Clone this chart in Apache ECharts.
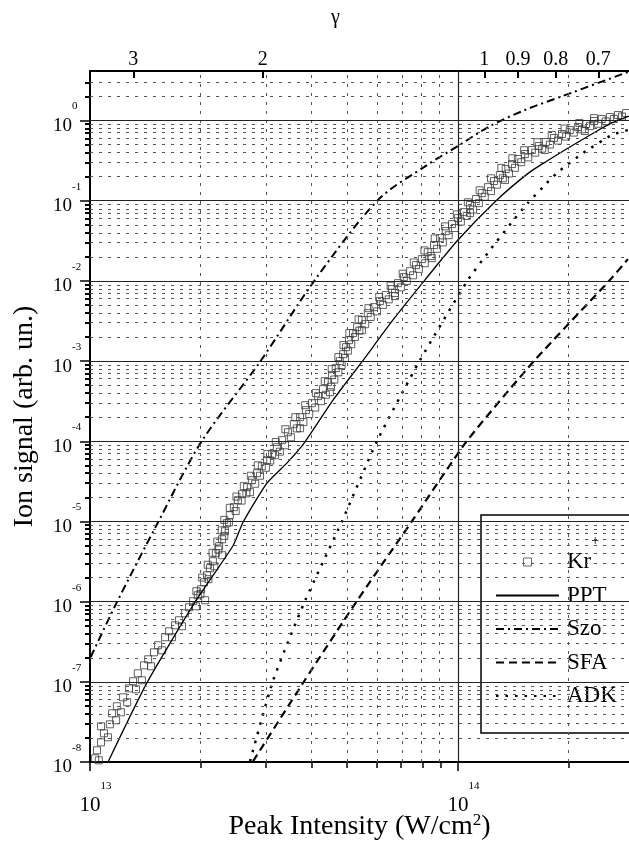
<!DOCTYPE html>
<html>
<head>
<meta charset="utf-8">
<title>Kr+ ion signal vs peak intensity</title>
<script src="https://cdn.jsdelivr.net/npm/echarts@6/dist/echarts.min.js"></script>
<style>
  html, body { margin: 0; padding: 0; background: #fff; }
  #ionChart { width: 629px; height: 845px; }
</style>
</head>
<body>
<div id="ionChart"></div>
<script>
  // every value is a decimal exponent: [log10 peak intensity (W/cm2), log10 ion signal]
  const krData = [
    [13.014,-7.954],[13.024,-7.979],[13.019,-7.854],[13.030,-7.755],[13.038,-7.642],[13.030,-7.555],
    [13.049,-7.692],[13.054,-7.530],[13.060,-7.393],[13.071,-7.480],[13.073,-7.305],[13.084,-7.380],
    [13.090,-7.193],[13.101,-7.255],[13.106,-7.081],[13.117,-6.993],[13.125,-7.093],[13.130,-6.894],
    [13.141,-6.981],[13.147,-6.794],[13.158,-6.719],[13.166,-6.806],[13.174,-6.632],[13.185,-6.544],
    [13.196,-6.607],[13.204,-6.444],[13.215,-6.370],[13.223,-6.444],[13.231,-6.295],[13.242,-6.232],
    [13.250,-6.307],[13.258,-6.145],[13.269,-6.070],[13.280,-5.995],[13.288,-6.058],[13.293,-5.920],
    [13.313,-5.983],[13.302,-5.846],[13.310,-5.758],[13.318,-5.671],[13.326,-5.583],[13.334,-5.496],
    [13.359,-5.421],[13.342,-5.396],[13.351,-5.309],[13.359,-5.222],[13.367,-5.122],[13.372,-5.022],
    [13.380,-4.922],[13.391,-4.822],[13.402,-4.735],[13.435,-4.635],[13.413,-4.660],[13.427,-4.573],
    [13.440,-4.486],[13.454,-4.398],[13.467,-4.311],[13.481,-4.236],[13.503,-4.174],[13.495,-4.161],
    [13.508,-4.074],[13.522,-3.986],[13.538,-3.887],[13.571,-3.837],[13.554,-3.787],[13.571,-3.699],
    [13.587,-3.612],[13.603,-3.525],[13.620,-3.437],[13.652,-3.388],[13.633,-3.350],[13.647,-3.263],
    [13.658,-3.175],[13.668,-3.088],[13.679,-3.001],[13.688,-2.913],[13.696,-2.826],[13.704,-2.739],
    [13.715,-2.651],[13.739,-2.614],[13.726,-2.577],[13.739,-2.489],[13.755,-2.402],[13.772,-2.327],
    [13.788,-2.252],[13.829,-2.190],[13.804,-2.177],[13.821,-2.102],[13.837,-2.028],[13.853,-1.953],
    [13.870,-1.878],[13.886,-1.803],[13.929,-1.716],[13.902,-1.728],[13.918,-1.641],[13.935,-1.553],
    [13.951,-1.466],[13.967,-1.379],[13.984,-1.291],[14.000,-1.216],[14.033,-1.154],[14.016,-1.142],
    [14.033,-1.054],[14.049,-0.979],[14.065,-0.905],[14.082,-0.830],[14.128,-0.742],[14.098,-0.755],
    [14.114,-0.680],[14.130,-0.605],[14.147,-0.543],[14.163,-0.480],[14.182,-0.418],[14.236,-0.368],
    [14.201,-0.368],[14.220,-0.318],[14.239,-0.268],[14.261,-0.218],[14.283,-0.168],[14.345,-0.131],
    [14.304,-0.119],[14.326,-0.081],[14.348,-0.044],[14.370,-0.006],[14.391,0.019],[14.413,0.044],
    [14.435,0.069],[14.457,0.094],
    // lower edge of the band
    [13.300,-5.905],[13.322,-5.720],[13.338,-5.560],[13.349,-5.350],[13.365,-5.180],[13.378,-5.010],
    [13.396,-4.870],[13.412,-4.740],[13.425,-4.650],[13.449,-4.530],[13.462,-4.430],[13.478,-4.330],
    [13.490,-4.240],[13.516,-4.130],[13.530,-4.050],[13.546,-3.950],[13.562,-3.840],[13.580,-3.760],
    [13.596,-3.660],[13.612,-3.580],[13.628,-3.500],[13.641,-3.420],[13.655,-3.320],[13.664,-3.230],
    [13.675,-3.140],[13.684,-3.050],[13.693,-2.960],[13.701,-2.870],[13.710,-2.790],[13.720,-2.700],
    [13.732,-2.620],[13.748,-2.540],[13.763,-2.450],[13.780,-2.380],[13.796,-2.300],[13.812,-2.230],
    [13.829,-2.150],[13.845,-2.080],[13.861,-2.000],[13.878,-1.930],[13.894,-1.850],[13.910,-1.780],
    [13.926,-1.690],[13.943,-1.600],[13.959,-1.520],[13.975,-1.430],[13.992,-1.340],[14.008,-1.260],
    [14.024,-1.190],[14.041,-1.110],[14.057,-1.030],[14.073,-0.950],[14.090,-0.880],[14.106,-0.800],
    [14.122,-0.720],[14.139,-0.660],[14.155,-0.590],[14.172,-0.520],[14.191,-0.460],[14.210,-0.400],
    [14.229,-0.350],[14.250,-0.300],[14.272,-0.250],[14.294,-0.200],[14.315,-0.150],[14.337,-0.110],
    [14.359,-0.070],[14.381,-0.040],[14.402,-0.010],[14.424,0.020],[14.446,0.050],
    // upper edge of the band
    [13.289,-5.870],[13.305,-5.700],[13.320,-5.540],[13.333,-5.390],[13.346,-5.250],[13.358,-5.110],
    [13.365,-4.980],[13.380,-4.830],[13.398,-4.690],[13.418,-4.560],[13.437,-4.430],[13.456,-4.300],
    [13.482,-4.160],[13.505,-4.010],[13.531,-3.850],[13.558,-3.700],[13.585,-3.550],[13.614,-3.400],
    [13.638,-3.250],[13.657,-3.100],[13.675,-2.950],[13.689,-2.800],[13.705,-2.650],[13.730,-2.480],
    [13.757,-2.340],[13.786,-2.200],[13.817,-2.060],[13.850,-1.910],[13.880,-1.770],[13.909,-1.620],
    [13.937,-1.470],[13.965,-1.320],[13.997,-1.170],[14.027,-1.020],[14.059,-0.870],[14.090,-0.720],
    [14.118,-0.590],[14.148,-0.470],[14.180,-0.370],[14.216,-0.270],[14.255,-0.180],[14.290,-0.100],
    [14.330,-0.030],[14.370,0.030]
  ];
  const pptData = [
    [13.049,-8.0],[13.155,-7.01],[13.285,-6.01],[13.389,-5.30],[13.416,-5.01],[13.481,-4.522],
    [13.535,-4.273],[13.584,-4.01],[13.660,-3.49],[13.739,-3.01],[13.823,-2.49],[13.910,-1.99],
    [14.0,-1.49],[14.106,-0.99],[14.196,-0.64],[14.242,-0.505],[14.304,-0.33],[14.378,-0.13],
    [14.418,-0.03],[14.465,0.056]
  ];
  const szoData = [
    [13.002,-6.69],[13.073,-6.008],[13.185,-5.01],[13.302,-4.011],[13.462,-3.01],[13.611,-1.99],
    [13.783,-0.99],[13.916,-0.555],[14.0,-0.318],[14.087,-0.069],[14.182,0.131],[14.285,0.306],
    [14.462,0.605]
  ];
  const sfaData = [
    [13.443,-7.992],[13.582,-6.993],[13.723,-6.008],[13.875,-4.997],[14.024,-3.999],[14.209,-2.988],
    [14.413,-1.990],[14.462,-1.728]
  ];
  const adkData = [
    [13.435,-7.992],[13.497,-6.993],[13.584,-5.995],[13.685,-4.997],[13.780,-3.999],[13.897,-2.988],
    [14.027,-1.990],[14.087,-1.616],[14.147,-1.266],[14.190,-1.029],[14.231,-0.830],[14.272,-0.643],
    [14.340,-0.406],[14.418,-0.181],[14.462,-0.119]
  ];

  // axes (exponents) and tick labels
  const intensityRange = [13, 14.465];
  const signalRange = [-8, 0.618];
  const intensityDecades = [13, 14];
  const signalDecades = [-8, -7, -6, -5, -4, -3, -2, -1, 0];
  const minorSteps = [2, 3, 4, 5, 6, 7, 8, 9];
  const gammaTicks = [3, 2, 1, 0.9, 0.8, 0.7];
  const gammaOneIntensity = 1.18e14; // intensity where the Keldysh parameter is 1

  const serif = "'Liberation Serif', 'Times New Roman', serif";

  const xMinor = [];
  intensityDecades.forEach(d => minorSteps.forEach(k => {
    const v = d + Math.log10(k);
    if (v < intensityRange[1]) xMinor.push(v);
  }));
  const yMinor = [];
  signalDecades.forEach(d => minorSteps.forEach(k => {
    const v = d + Math.log10(k);
    if (v < signalRange[1] - 0.02) yMinor.push(v);
  }));
  const gammaPos = gammaTicks.map(g => Math.log10(gammaOneIntensity / (g * g)));

  const dotted = { type: [3, 6], color: '#555', width: 1 };
  const solid = { type: 'solid', color: '#222', width: 1.2 };
  const gridLines = [].concat(
    yMinor.map(v => ({ yAxis: v, lineStyle: dotted })),
    xMinor.map(v => ({ xAxis: v, lineStyle: dotted })),
    signalDecades.filter(v => v > signalRange[0]).map(v => ({ yAxis: v, lineStyle: solid })),
    intensityDecades.filter(v => v > intensityRange[0]).map(v => ({ xAxis: v, lineStyle: solid }))
  );

  const black = '#000';
  const tickStyle = w => ({ color: black, width: w });
  const noSymbol = { opacity: 0 };

  let chart = echarts.init(document.getElementById('ionChart'));
  let option = {
    animation: false,
    backgroundColor: '#fff',
    grid: { left: 90, right: 0, top: 71, bottom: 83, containLabel: false, outerBoundsMode: 'none' },
    legend: {
      data: [
        { name: 'Kr+', icon: 'path://M0,0h10v10h-10z',
          itemStyle: { color: 'rgba(0,0,0,0)', borderColor: '#444', borderWidth: 1 } },
        { name: 'PPT', itemStyle: noSymbol },
        { name: 'Szo', itemStyle: noSymbol },
        { name: 'SFA', itemStyle: noSymbol },
        { name: 'ADK', itemStyle: noSymbol }
      ],
      orient: 'vertical',
      left: 481,
      top: 515,
      itemWidth: 63,
      itemHeight: 8,
      itemGap: -22.5,
      symbolKeepAspect: true,
      padding: [19, 40, 9, 14],
      backgroundColor: '#fff',
      borderColor: black,
      borderWidth: 1.5,
      selectedMode: false,
      formatter: name => name === 'Kr+' ? '{k|Kr}{p|+}' : name,
      textStyle: {
        fontFamily: serif, fontSize: 23, color: black, lineHeight: 56, padding: [0, 0, 0, 3],
        rich: {
          k: { fontFamily: serif, fontSize: 23, lineHeight: 56, color: black },
          p: { fontFamily: serif, fontSize: 14, lineHeight: 14, color: black, padding: [0, 0, 42, 0] }
        }
      }
    },
    xAxis: [
      {
        type: 'value', position: 'bottom', min: intensityRange[0], max: intensityRange[1],
        name: '{n|Peak Intensity (W/cm}{s|2}{n|)}', nameLocation: 'middle', nameGap: 50,
        nameMoveOverlap: false,
        nameTextStyle: {
          rich: {
            n: { fontFamily: serif, fontSize: 28, lineHeight: 30, color: black },
            s: { fontFamily: serif, fontSize: 17, lineHeight: 17, color: black, padding: [0, 0, 13, 0] }
          }
        },
        axisLine: { onZero: false, lineStyle: tickStyle(2) },
        axisTick: { customValues: intensityDecades, length: 9, lineStyle: tickStyle(1.5) },
        axisLabel: {
          customValues: intensityDecades, margin: 16,
          formatter: v => '{e|' + v + '}\n{g|' + v + '}{b|10}{g|' + v + '}',
          rich: {
            e: { fontFamily: serif, fontSize: 11, lineHeight: 16, align: 'right', color: black },
            g: { fontFamily: serif, fontSize: 11, lineHeight: 22, color: 'rgba(0,0,0,0)' },
            b: { fontFamily: serif, fontSize: 21, lineHeight: 22, color: black }
          }
        },
        splitLine: { show: false }
      },
      {
        type: 'value', position: 'bottom', min: intensityRange[0], max: intensityRange[1],
        axisLine: { show: false, onZero: false },
        axisTick: { customValues: xMinor, length: 6, lineStyle: tickStyle(1.5) },
        axisLabel: { show: false },
        splitLine: { show: false }
      },
      {
        type: 'value', position: 'top', min: intensityRange[0], max: intensityRange[1],
        name: 'γ', nameLocation: 'middle', nameGap: 43, nameMoveOverlap: false,
        nameTextStyle: { fontFamily: serif, fontSize: 20, color: black, padding: [0, 48, 0, 0] },
        axisLine: { onZero: false, lineStyle: tickStyle(2) },
        axisTick: { customValues: gammaPos, inside: true, length: 7, lineStyle: tickStyle(2) },
        axisLabel: {
          customValues: gammaPos, margin: 1, fontFamily: serif, fontSize: 20, color: black,
          formatter: v => {
            let i = gammaPos.findIndex(p => Math.abs(p - v) < 1e-3);
            return i < 0 ? '' : String(gammaTicks[i]);
          }
        },
        splitLine: { show: false }
      }
    ],
    yAxis: [
      {
        type: 'value', position: 'left', min: signalRange[0], max: signalRange[1],
        name: 'Ion signal (arb. un.)', nameLocation: 'middle', nameGap: 51, nameMoveOverlap: false,
        nameTextStyle: { fontFamily: serif, fontSize: 28, color: black },
        axisLine: { onZero: false, lineStyle: tickStyle(2) },
        axisTick: { customValues: signalDecades, length: 10, lineStyle: tickStyle(1.5) },
        axisLabel: {
          customValues: signalDecades, margin: 37, align: 'left',
          formatter: v => '{h|10}{e|' + v + '}\n{b|10}',
          rich: {
            h: { fontFamily: serif, fontSize: 19, lineHeight: 11, color: 'rgba(0,0,0,0)' },
            e: { fontFamily: serif, fontSize: 11, lineHeight: 11, color: black },
            b: { fontFamily: serif, fontSize: 19, lineHeight: 28, color: black }
          }
        },
        splitLine: { show: false }
      },
      {
        type: 'value', position: 'left', min: signalRange[0], max: signalRange[1],
        axisLine: { show: false, onZero: false },
        axisTick: { customValues: yMinor, length: 5, lineStyle: tickStyle(2) },
        axisLabel: { show: false },
        splitLine: { show: false }
      }
    ],
    series: [
      {
        name: 'grid', type: 'line', data: [], silent: true,
        markLine: {
          silent: true, symbol: ['none', 'none'], label: { show: false },
          emphasis: { disabled: true }, animation: false,
          data: gridLines
        }
      },
      {
        name: 'PPT', type: 'line', data: pptData, symbol: 'none', showSymbol: false, smooth: 0.2,
        lineStyle: { color: black, width: 1.3, type: 'solid' }, itemStyle: { color: black }
      },
      {
        name: 'Szo', type: 'line', data: szoData, symbol: 'none', showSymbol: false, smooth: 0.3,
        lineStyle: { color: black, width: 2, type: [8, 4, 2, 4] }, itemStyle: { color: black }
      },
      {
        name: 'SFA', type: 'line', data: sfaData, symbol: 'none', showSymbol: false, smooth: 0.2,
        lineStyle: { color: black, width: 2.2, type: [8, 5] }, itemStyle: { color: black }
      },
      {
        name: 'ADK', type: 'line', data: adkData, symbol: 'none', showSymbol: false, smooth: 0.2,
        lineStyle: { color: black, width: 2.5, type: [2.5, 7] }, itemStyle: { color: black }
      },
      {
        name: 'Kr+', type: 'scatter', data: krData, symbol: 'rect', symbolSize: 7,
        itemStyle: { color: 'rgba(0,0,0,0)', borderColor: '#3a3a3a', borderWidth: 1 },
        emphasis: { disabled: true }
      }
    ]
  };
  chart.setOption(option, true);
</script>
</body>
</html>
